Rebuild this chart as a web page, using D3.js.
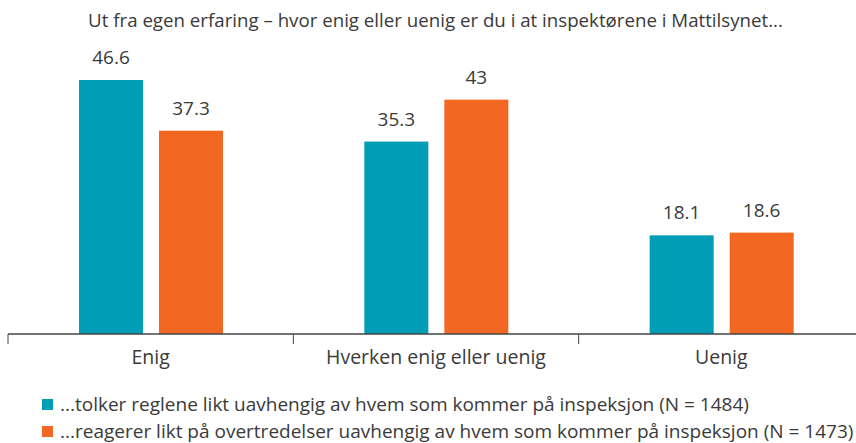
<!DOCTYPE html>
<html><head><meta charset="utf-8">
<script src="https://cdn.jsdelivr.net/npm/d3@7"></script>
<style>body{margin:0;background:#fff}svg{display:block}text{font-family:"Open Sans",Lato,sans-serif;fill:#3a3a3a}</style>
</head><body><svg id="c" width="856" height="443"></svg>
<script>
const title = "Ut fra egen erfaring – hvor enig eller uenig er du i at inspektørene i Mattilsynet...";
const categories = ["Enig", "Hverken enig eller uenig", "Uenig"];
const seriesNames = ["...tolker reglene likt uavhengig av hvem som kommer på inspeksjon (N = 1484)",
                     "...reagerer likt på overtredelser uavhengig av hvem som kommer på inspeksjon (N = 1473)"];
const series1 = [46.6, 35.3, 18.1];
const series2 = [37.3, 43, 18.6];
const colors = ["#009db6", "#f26722"];

const svg = d3.select("#c");
const baseY = 334;
const x0 = d3.scaleBand().domain(categories).range([8, 864]);
const x1 = d3.scaleBand().domain([0,1]).range([71, 215]).paddingInner(0.2).paddingOuter(0);
const y = d3.scaleLinear().domain([0, 46.6]).range([baseY, 80]);

svg.append("text").attr("x", 435.5).attr("y", 27).attr("text-anchor","middle")
  .style("font-size","18.7px").text(title);

const data = [series1, series2];
categories.forEach((c, i) => {
  const g = svg.append("g").attr("transform", `translate(${x0(c)},0)`);
  data.forEach((s, j) => {
    const bx = x1(j), bw = x1.bandwidth();
    g.append("rect").attr("x", bx).attr("width", bw).attr("y", y(s[i])).attr("height", baseY - y(s[i]))
      .attr("fill", colors[j]);
    g.append("text").attr("x", bx + bw/2).attr("y", y(s[i]) - 16).attr("text-anchor","middle")
      .style("font-size","19px").text(String(s[i]));
  });
});

const axis = svg.append("g").attr("transform", `translate(0,${baseY})`);
axis.append("line").attr("x1", 8).attr("x2", 856).attr("stroke", "#444").attr("stroke-width", 1.5);
categories.forEach(c => {
  axis.append("line").attr("x1", x0(c)).attr("x2", x0(c)).attr("y1", 0).attr("y2", 10).attr("stroke","#444").attr("stroke-width",1);
  axis.append("text").attr("x", x0(c) + x0.bandwidth()/2).attr("y", 30).attr("text-anchor","middle")
    .style("font-size","19.5px").text(c);
});

seriesNames.forEach((n, j) => {
  const ly = 399 + j*27;
  svg.append("rect").attr("x", 42).attr("y", ly).attr("width", 11).attr("height", 11).attr("fill", colors[j]);
  svg.append("text").attr("x", 60).attr("y", ly + 12).style("font-size","19px").text(n);
});
</script></body></html>
